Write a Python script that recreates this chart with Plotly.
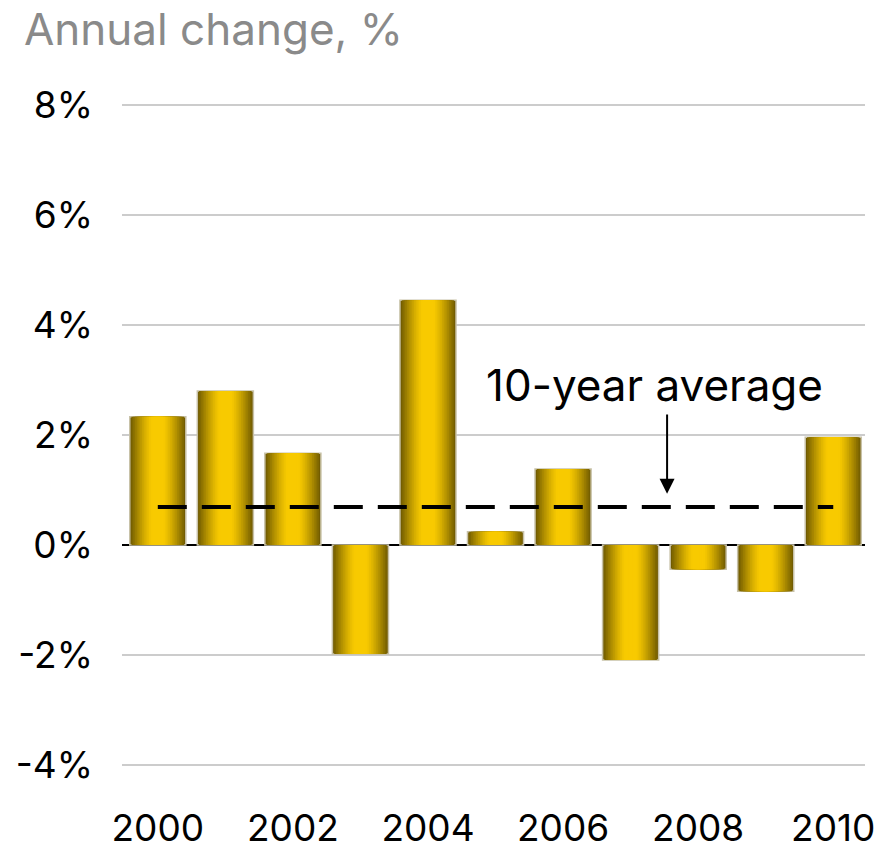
"""Annual change bar chart with a 10-year average line — Plotly"""

import plotly.graph_objects as go

YEARS = [2000, 2001, 2002, 2003, 2004, 2005, 2006, 2007, 2008, 2009, 2010]
CHANGE_PCT = [2.33, 2.80, 1.67, -1.98, 4.45, 0.24, 1.38, -2.09, -0.44, -0.84, 1.96]
AVERAGE_PCT = 0.69
Y_TICKS = [-4, -2, 0, 2, 4, 6, 8]
X_TICKS = [2000, 2002, 2004, 2006, 2008, 2010]

FONT = "Inter, Liberation Sans, Arial, sans-serif"
DARK = (0x6a, 0x55, 0x00)
BRIGHT = (0xf8, 0xca, 0x00)
BAR_WIDTH = 0.83
LAYERS = 16

# the page body has an 8px margin, so the figure is drawn 8px smaller
PAGE_PAD = 8
W, H = 895 - PAGE_PAD, 851 - PAGE_PAD
M_L, M_R, M_T, M_B = 122 - PAGE_PAD, 30, 94 - PAGE_PAD, 64
PLOT_W, PLOT_H = W - M_L - M_R, H - M_T - M_B


def _mix(t: float) -> str:
    r, g, b = (round(d + (br - d) * t) for d, br in zip(DARK, BRIGHT))
    return f"rgb({r},{g},{b})"


fig = go.Figure()

# fake a horizontal gradient: stack narrower, lighter bars on top of each other
for k in range(LAYERS):
    frac = 1 - k / LAYERS
    d = 1 - (k + 0.5) / LAYERS  # distance from bar centre, 0..1
    t = 1.0 if d <= 0.2 else max(0.0, 1 - ((d - 0.2) / 0.8) ** 1.3)
    fig.add_trace(
        go.Bar(
            x=YEARS,
            y=CHANGE_PCT,
            width=BAR_WIDTH * frac,
            marker_color=_mix(t),
            marker_line=dict(color="#c8c2a8", width=1.5 if k == 0 else 0),
            hoverinfo="skip",
            showlegend=False,
        )
    )

fig.add_trace(
    go.Scatter(
        x=[YEARS[0], YEARS[-1]],
        y=[AVERAGE_PCT, AVERAGE_PCT],
        mode="lines",
        line=dict(color="black", width=4, dash="29px,15px"),
        hoverinfo="skip",
        showlegend=False,
    )
)

# chart heading, placed as an annotation in paper coordinates
fig.add_annotation(
    text="Annual change, %",
    xref="paper", yref="paper",
    x=(22 - PAGE_PAD - M_L) / PLOT_W,
    y=1 + (M_T - (29 - PAGE_PAD)) / PLOT_H,
    xanchor="left", yanchor="middle",
    showarrow=False,
    font=dict(family=FONT, size=44, color="#8a8a8a"),
)

fig.add_annotation(
    x=2007.36, y=2.91, text="10-year average", showarrow=False,
    font=dict(family=FONT, size=44, color="black"),
)
fig.add_annotation(
    x=2007.54, y=0.93, ax=2007.54, ay=2.40, axref="x", ayref="y",
    text="", showarrow=True, arrowhead=2, arrowsize=1.5, arrowwidth=2,
    arrowcolor="black",
)

fig.update_layout(
    barmode="overlay",
    template="plotly_white",
    width=W,
    height=H,
    margin=dict(l=M_L, r=M_R, t=M_T, b=M_B),
    plot_bgcolor="white",
    paper_bgcolor="white",
    font=dict(family=FONT, color="black"),
    xaxis=dict(
        range=[1999.47, 2010.47],
        tickvals=X_TICKS,
        ticktext=[str(v) for v in X_TICKS],
        tickfont=dict(size=37, color="black"),
        showgrid=False,
        zeroline=False,
        showline=False,
        ticks="",
        ticklabelstandoff=16,
        automargin=False,
    ),
    yaxis=dict(
        range=[-4.4, 8.2],
        tickvals=Y_TICKS,
        ticktext=[f"{v}%" for v in Y_TICKS],
        tickfont=dict(size=37, color="black"),
        showgrid=True,
        gridcolor="#cccccc",
        gridwidth=2,
        zeroline=True,
        zerolinecolor="black",
        zerolinewidth=2,
        showline=False,
        ticks="",
        ticklabelstandoff=28,
        automargin=False,
    ),
)

fig.write_html("out.html")
